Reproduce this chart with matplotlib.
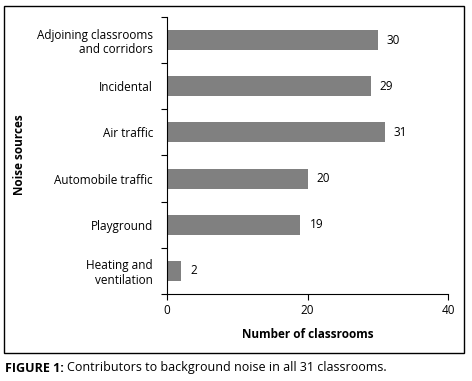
import numpy as np
import matplotlib.pyplot as plt
from matplotlib.patches import Rectangle

# Datos
categorias = ['Adjoining classrooms\nand corridors', 'Incidental', 'Air traffic',
              'Automobile traffic', 'Playground', 'Heating and\nventilation']
valores = [30, 29, 31, 20, 19, 2]
xticks = [0, 20, 40]

plt.rcParams['font.family'] = ['Open Sans', 'DejaVu Sans']

W, H = 472, 381
fig = plt.figure(figsize=(W/100, H/100), dpi=100)
ax = fig.add_axes([167/W, 1-294/H, (448-167)/W, (294-17)/H])

y = np.arange(len(categorias))
ax.barh(y, valores, height=0.43, color='#808080')
ax.set_ylim(len(categorias)-0.5, -0.5)
ax.set_xlim(0, 40)

for yi, v in zip(y, valores):
    ax.text(v + 1.3, yi, str(v), va='center', ha='left', fontsize=8.5)

ax.set_xticks(xticks)
ax.set_yticks(y)
ax.set_yticklabels(categorias, fontsize=8.5, linespacing=1.15)
ax.set_yticks(np.arange(len(categorias)+1) - 0.5, minor=True)
ax.tick_params(axis='y', which='major', length=0, pad=10)
ax.tick_params(axis='y', which='minor', length=4, width=0.8, direction='out')
ax.tick_params(axis='x', length=4, width=0.8, labelsize=8.5, pad=3)
ax.spines['top'].set_visible(False)
ax.spines['right'].set_visible(False)
ax.spines['left'].set_linewidth(0.8)
ax.spines['bottom'].set_linewidth(0.8)

fig.text(308/W, 1-334/H, 'Number of classrooms', ha='center', va='center',
         fontsize=8.5, fontweight='bold')
fig.text(20/W, 1-155/H, 'Noise sources', ha='center', va='center',
         rotation=90, fontsize=8.5, fontweight='bold')

# Marco
fig.patches.append(Rectangle((4/W, 1-353/H), 460/W, 347/H, transform=fig.transFigure,
                             fill=False, edgecolor='black', linewidth=1))

fig.text(5/W, 1-368/H, 'FIGURE 1:', ha='left', va='center', fontsize=9, fontweight='bold')
fig.text(67/W, 1-368/H, 'Contributors to background noise in all 31 classrooms.',
         ha='left', va='center', fontsize=9)

fig.savefig('out.png', dpi=100)
